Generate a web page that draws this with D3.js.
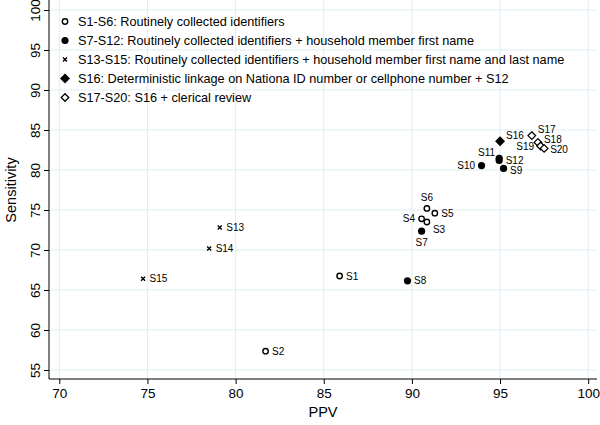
<!DOCTYPE html>
<html><head><meta charset="utf-8">
<script src="https://cdn.jsdelivr.net/npm/d3@7"></script>
<style>body{margin:0;background:#fff}svg{font-family:"Liberation Sans",Arial,Helvetica,sans-serif}</style>
</head><body><svg id="c" width="600" height="425"></svg>
<script>
const labels = ["S1","S2","S3","S4","S5","S6","S7","S8","S9","S10","S11","S12","S13","S14","S15","S16","S17","S18","S19","S20"];
const ppv =   [85.9,81.7,90.85,90.55,91.3,90.85,90.55,89.75,95.2,93.95,94.95,94.95,79.1,78.5,74.75,95.0,96.8,97.15,97.3,97.5];
const sens =  [66.75,57.35,73.5,73.9,74.6,75.2,72.35,66.15,80.2,80.55,81.45,81.2,72.8,70.2,66.4,83.6,84.3,83.45,83.0,82.7];
const groups = [0,0,0,0,0,0,1,1,1,1,1,1,2,2,2,3,4,4,4,4];
const labelPos = ["r","r","rb","l","r","t","b","r","rb2","l","tl","r","r","r","r","tr","tr","ru","l","rd"];
const legendText = [
  "S1-S6: Routinely collected identifiers",
  "S7-S12: Routinely collected identifiers + household member first name",
  "S13-S15: Routinely collected identifiers + household member first name  and last name",
  "S16: Deterministic linkage on Nationa ID number or cellphone number + S12",
  "S17-S20: S16 + clerical review"
];
const xTicks = [70,75,80,85,90,95,100];
const yTicks = [55,60,65,70,75,80,85,90,95,100];

const svg = d3.select("#c");
const x = d3.scaleLinear().domain([70,100]).range([59.3,588.2]);
const y = d3.scaleLinear().domain([55,100]).range([370,10]);
const x0 = 49, x1 = 597, yB = 379, yT = 0;

// grid
const grid = svg.append("g");
grid.selectAll("line.v").data(xTicks).join("line")
  .attr("x1",d=>x(d)).attr("x2",d=>x(d)).attr("y1",yT).attr("y2",yB)
  .attr("stroke","#dfedf2").attr("stroke-width",1);
grid.selectAll("line.h").data(yTicks).join("line")
  .attr("y1",d=>y(d)).attr("y2",d=>y(d)).attr("x1",x0).attr("x2",x1)
  .attr("stroke","#dfedf2").attr("stroke-width",1);

// axes
const xa = svg.append("g").attr("transform",`translate(0,${yB})`)
  .call(d3.axisBottom(x).tickValues(xTicks).tickSize(5).tickPadding(4));
xa.select(".domain").attr("d",`M${x0},0H${x1}`);
xa.selectAll("text").attr("font-size",13.5).attr("fill","#000");
xa.selectAll("line,path").attr("stroke","#000");

const ya = svg.append("g").attr("transform",`translate(${x0},0)`)
  .call(d3.axisLeft(y).tickValues(yTicks).tickSize(5).tickPadding(4));
ya.select(".domain").attr("d",`M0,${yT}V${yB}`);
ya.selectAll("line,path").attr("stroke","#000");
ya.selectAll("text").attr("font-size",13.5).attr("fill","#000")
  .attr("transform","rotate(-90)").attr("text-anchor","middle")
  .attr("x",0).attr("dx",0).attr("dy",0).attr("y",-9);

svg.append("text").attr("x",323).attr("y",417).attr("text-anchor","middle")
  .attr("font-size",14.5).text("PPV");
svg.append("text").attr("transform","translate(16,190) rotate(-90)").attr("text-anchor","middle")
  .attr("font-size",14.5).text("Sensitivity");

function marker(g, grp, cx, cy){
  if(grp===0) g.append("circle").attr("cx",cx).attr("cy",cy).attr("r",2.7).attr("fill","#fff").attr("stroke","#000").attr("stroke-width",1.4);
  else if(grp===1) g.append("circle").attr("cx",cx).attr("cy",cy).attr("r",3.6).attr("fill","#000");
  else if(grp===2) g.append("path").attr("d",`M${cx-2},${cy-2}L${cx+2},${cy+2}M${cx-2},${cy+2}L${cx+2},${cy-2}`).attr("stroke","#000").attr("stroke-width",1.4);
  else if(grp===3) g.append("path").attr("d",`M${cx},${cy-5}L${cx+5},${cy}L${cx},${cy+5}L${cx-5},${cy}Z`).attr("fill","#000");
  else g.append("path").attr("d",`M${cx},${cy-3.8}L${cx+3.8},${cy}L${cx},${cy+3.8}L${cx-3.8},${cy}Z`).attr("fill","#fff").attr("stroke","#000").attr("stroke-width",1.3);
}

const pts = svg.append("g");
labels.forEach((lab,i)=>{
  const cx = x(ppv[i]), cy = y(sens[i]);
  marker(pts, groups[i], cx, cy);
  const p = labelPos[i];
  let tx=cx+6.5, ty=cy+3.5, anchor="start";
  if(p==="l"){tx=cx-6.5; anchor="end";}
  else if(p==="t"){tx=cx; ty=cy-7; anchor="middle";}
  else if(p==="b"){tx=cx; ty=cy+15; anchor="middle";}
  else if(p==="rb"){tx=cx+6; ty=cy+11;}
  else if(p==="rb2"){tx=cx+6.5; ty=cy+5.5;}
  else if(p==="tl"){tx=cx-4; ty=cy-2.5; anchor="end";}
  else if(p==="tr"){tx=cx+6; ty=cy-2.5;}
  else if(p==="ru"){tx=cx+6; ty=cy+1;}
  else if(p==="rd"){tx=cx+6; ty=cy+5;}
  pts.append("text").attr("x",tx).attr("y",ty).attr("text-anchor",anchor)
    .attr("font-size",10).text(lab);
});

// legend
const lg = svg.append("g");
legendText.forEach((t,i)=>{
  const cy = 21.5 + i*19;
  marker(lg, i, 65, cy);
  lg.append("text").attr("x",78).attr("y",cy+4.5).attr("font-size",12.7).text(t);
});
</script></body></html>
